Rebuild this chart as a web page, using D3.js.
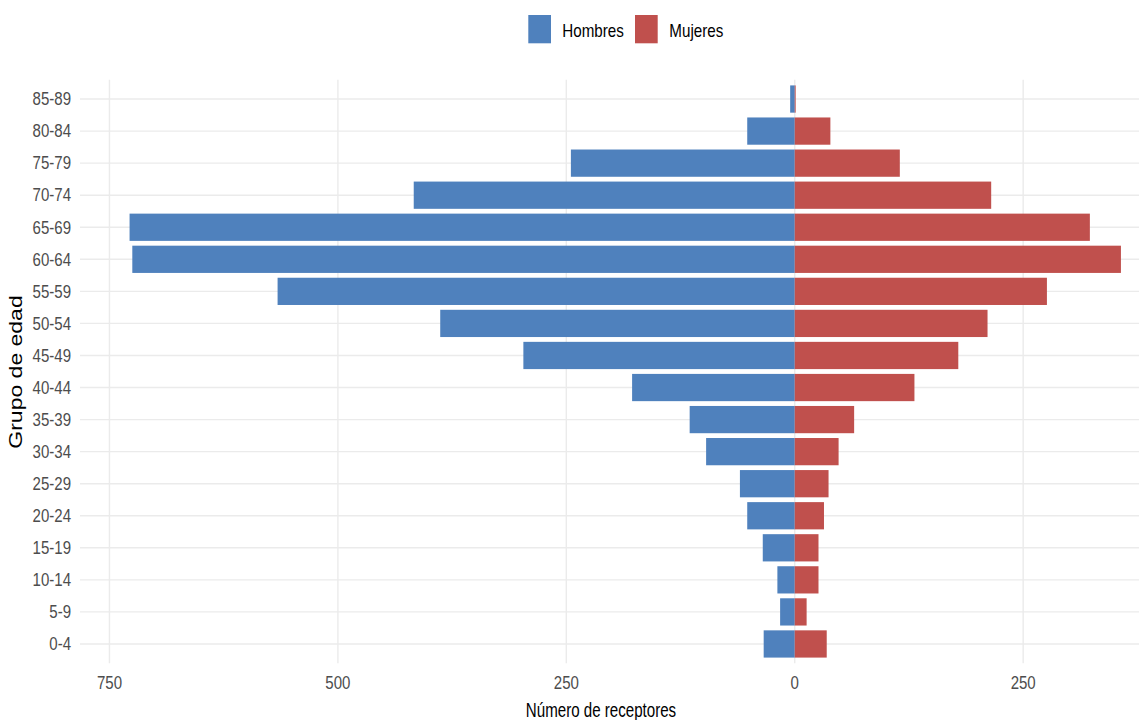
<!DOCTYPE html>
<html>
<head>
<meta charset="utf-8">
<script src="https://cdn.jsdelivr.net/npm/d3@7"></script>
<style>
html,body{margin:0;padding:0;background:#fff;overflow:hidden;}
svg{display:block;}
text{font-family:"Liberation Sans",Arial,sans-serif;}
</style>
</head>
<body>
<svg id="chart" width="1139" height="720"></svg>
<script>
const ageGroups = ["0-4","5-9","10-14","15-19","20-24","25-29","30-34","35-39","40-44","45-49","50-54","55-59","60-64","65-69","70-74","75-79","80-84","85-89"];
const hombres = [34,16,19,35,52,60,97,115,178,297,388,566,725,728,417,245,52,5];
const mujeres = [35,13,26,26,32,37,48,65,131,179,211,276,357,323,215,115,39,1];
const seriesNames = ["Hombres","Mujeres"];
const seriesColors = ["#4f81bd","#c0504d"];
const xTicks = [-750,-500,-250,0,250];
const xTitle = "Número de receptores";
const yTitle = "Grupo de edad";

const svg = d3.select("#chart");
const panel = {left:80, right:1170.5, top:79.8, bottom:663.2};

const minV = -d3.max(hombres), maxV = d3.max(mujeres);
const pad = (maxV - minV) * 0.05;
const x = d3.scaleLinear().domain([minV - pad, maxV + pad]).range([panel.left, panel.right]);
const y = d3.scalePoint().domain(ageGroups).range([panel.bottom, panel.top]).padding(0.6);
const barH = y.step() * 0.85;

const grid = svg.append("g");
grid.selectAll("line.h").data(ageGroups).enter().append("line")
  .attr("x1", panel.left).attr("x2", panel.right)
  .attr("y1", d => y(d)).attr("y2", d => y(d))
  .attr("stroke", "#ebebeb").attr("stroke-width", 1.4);
grid.selectAll("line.v").data(xTicks).enter().append("line")
  .attr("x1", d => x(d)).attr("x2", d => x(d))
  .attr("y1", panel.top).attr("y2", panel.bottom)
  .attr("stroke", "#ebebeb").attr("stroke-width", 1.4);

const data = ageGroups.map((a,i) => ({age:a, h:hombres[i], m:mujeres[i]}));
svg.append("g").selectAll("rect").data(data).enter().append("rect")
  .attr("x", d => x(-d.h)).attr("width", d => x(0) - x(-d.h))
  .attr("y", d => y(d.age) - barH/2).attr("height", barH)
  .attr("fill", seriesColors[0]);
svg.append("g").selectAll("rect").data(data).enter().append("rect")
  .attr("x", x(0)).attr("width", d => x(d.m) - x(0))
  .attr("y", d => y(d.age) - barH/2).attr("height", barH)
  .attr("fill", seriesColors[1]);

function ctext(g, str, tx, ty, size, sx, anchor, color, rot){
  const t = g.append("text")
    .attr("transform", `translate(${tx},${ty})` + (rot ? ` rotate(${rot})` : "") + ` scale(${sx},1)`)
    .attr("font-size", size).attr("text-anchor", anchor).attr("fill", color)
    .text(str);
  return t;
}

const axes = svg.append("g");
ageGroups.forEach(a => ctext(axes, a, 71, y(a) + 6.3, 17.7, 0.85, "end", "#4d4d4d"));
xTicks.forEach(v => ctext(axes, d3.format("d")(Math.abs(v)), x(v), 689.3, 17.7, 0.85, "middle", "#4d4d4d"));

ctext(svg, xTitle, 601, 716.7, 21, 0.72, "middle", "#000");
// y title rotated
svg.append("text")
  .attr("transform", `translate(21.5,372) rotate(-90) scale(1,0.78)`)
  .attr("font-size", 23).attr("text-anchor", "middle").attr("fill", "#000")
  .text(yTitle);

const legX = [528.3, 635];
const legTX = [562.3, 669.3];
seriesNames.forEach((s,i) => {
  svg.append("rect").attr("x", legX[i]).attr("y", 15).attr("width", 22.7).attr("height", 28.3).attr("fill", seriesColors[i]);
  ctext(svg, s, legTX[i], 37.3, 18.2, 0.835, "start", "#000");
});
</script>
</body>
</html>
